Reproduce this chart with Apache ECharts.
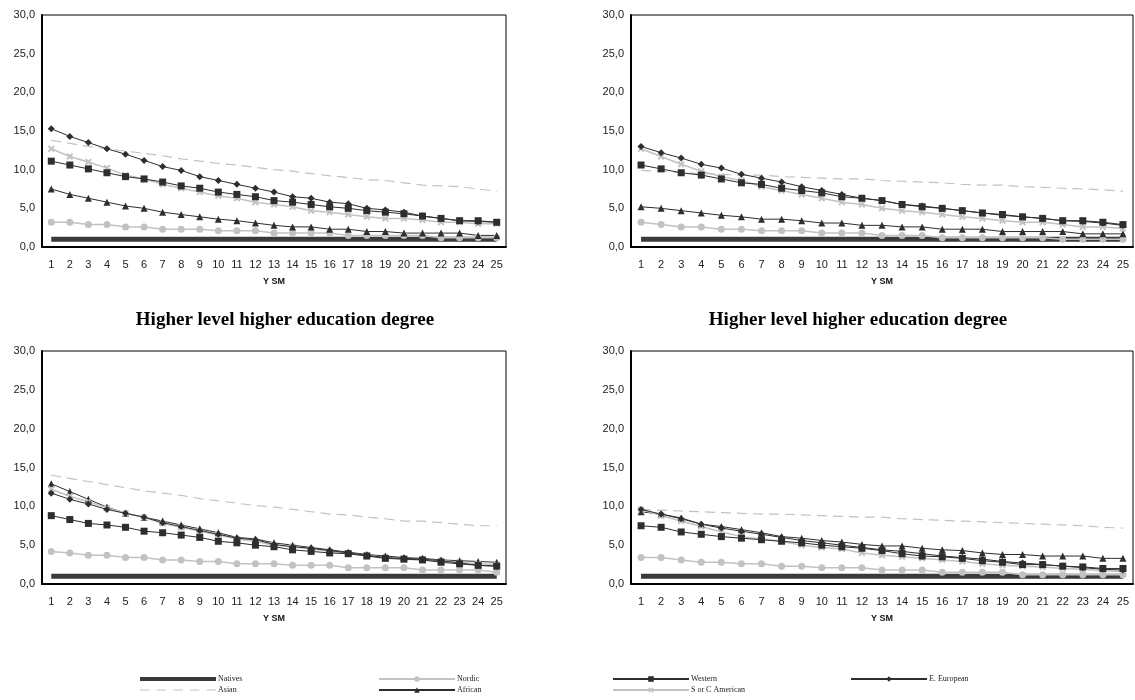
<!DOCTYPE html>
<html><head><meta charset="utf-8">
<script src="https://cdn.jsdelivr.net/npm/echarts@6/dist/echarts.min.js"></script>
<style>html,body{margin:0;padding:0;background:#fff}#c{width:1135px;height:700px}</style>
</head><body><div id="c"></div>
<script>
const years = ['1','2','3','4','5','6','7','8','9','10','11','12','13','14','15','16','17','18','19','20','21','22','23','24','25'];
const seriesNames = ['Natives','Nordic','Western','E. European','Asian','African','S or C American'];
const panelTitles = ['', '', 'Higher level higher education degree', 'Higher level higher education degree'];

// top-left
const tlNatives = [1,1,1,1,1,1,1,1,1,1,1,1,1,1,1,1,1,1,1,1,1,1,1,1,1];
const tlNordic = [3.2,3.2,2.9,2.9,2.6,2.6,2.3,2.3,2.3,2.1,2.1,2.1,1.8,1.8,1.8,1.8,1.5,1.5,1.5,1.5,1.5,1.2,1.2,1.2,1.2];
const tlWestern = [11.1,10.6,10.1,9.6,9.1,8.8,8.4,7.9,7.6,7.1,6.8,6.5,6.0,5.8,5.5,5.2,5.0,4.7,4.5,4.3,4.0,3.7,3.4,3.4,3.2];
const tlEEuropean = [15.3,14.3,13.5,12.7,12.0,11.2,10.4,9.9,9.1,8.6,8.1,7.6,7.1,6.5,6.3,5.8,5.6,5.0,4.8,4.5,4.0,3.7,3.4,3.3,3.2];
const tlAsian = [13.8,13.4,13.0,12.7,12.4,12.1,11.8,11.4,11.1,10.8,10.6,10.3,10.0,9.8,9.5,9.2,9.0,8.7,8.6,8.3,8.0,7.9,7.8,7.5,7.2];
const tlAfrican = [7.5,6.8,6.3,5.8,5.3,5.0,4.5,4.2,3.9,3.6,3.4,3.1,2.8,2.6,2.6,2.3,2.3,2.0,2.0,1.8,1.8,1.8,1.8,1.5,1.5];
const tlSCAmerican = [12.7,11.7,11.0,10.2,9.3,8.8,8.1,7.6,7.1,6.6,6.3,5.8,5.5,5.2,4.7,4.5,4.2,3.9,3.7,3.7,3.5,3.2,3.2,3.0,3.0];

// top-right
const trNatives = [1,1,1,1,1,1,1,1,1,1,1,1,1,1,1,1,1,1,1,1,1,1,1,1,1];
const trNordic = [3.2,2.9,2.6,2.6,2.3,2.3,2.1,2.1,2.1,1.8,1.8,1.8,1.5,1.5,1.5,1.2,1.2,1.2,1.2,1.2,1.2,1.0,1.0,1.0,1.0];
const trWestern = [10.6,10.1,9.6,9.3,8.8,8.3,8.1,7.6,7.3,7.0,6.5,6.3,6.0,5.5,5.2,5.0,4.7,4.4,4.2,3.9,3.7,3.4,3.4,3.2,2.9];
const trEEuropean = [13.0,12.2,11.5,10.7,10.2,9.4,8.9,8.4,7.8,7.3,6.8,6.3,6.0,5.5,5.3,5.0,4.7,4.4,4.1,3.9,3.7,3.4,3.3,3.1,2.8];
const trAsian = [9.9,9.8,9.6,9.5,9.4,9.3,9.3,9.1,9.0,8.9,8.8,8.8,8.6,8.5,8.4,8.3,8.1,8.0,8.0,7.8,7.7,7.6,7.5,7.4,7.2];
const trAfrican = [5.2,5.0,4.7,4.4,4.1,3.9,3.6,3.6,3.4,3.1,3.1,2.8,2.8,2.6,2.6,2.3,2.3,2.3,2.0,2.0,2.0,2.0,1.7,1.7,1.7];
const trSCAmerican = [12.7,11.7,10.7,9.8,9.1,8.6,7.8,7.3,6.8,6.3,5.8,5.5,5.0,4.7,4.5,4.2,3.9,3.7,3.4,3.2,3.2,2.9,2.6,2.6,2.4];

// bottom-left
const blNatives = [1,1,1,1,1,1,1,1,1,1,1,1,1,1,1,1,1,1,1,1,1,1,1,1,1];
const blNordic = [4.2,4.0,3.7,3.7,3.4,3.4,3.1,3.1,2.9,2.9,2.6,2.6,2.6,2.4,2.4,2.4,2.1,2.1,2.1,2.1,1.8,1.8,1.8,1.8,1.5];
const blWestern = [8.8,8.3,7.8,7.6,7.3,6.8,6.6,6.3,6.0,5.5,5.3,5.0,4.8,4.4,4.2,4.0,3.9,3.6,3.3,3.2,3.1,2.8,2.6,2.4,2.3];
const blEEuropean = [11.7,10.9,10.3,9.6,9.1,8.6,7.9,7.4,6.9,6.4,5.9,5.7,5.1,4.8,4.6,4.3,4.0,3.7,3.4,3.3,3.2,3.0,2.7,2.4,2.3];
const blAsian = [14.0,13.6,13.2,12.8,12.4,12.0,11.7,11.4,11.0,10.7,10.4,10.1,9.9,9.6,9.3,9.0,8.9,8.6,8.4,8.1,8.1,7.9,7.7,7.5,7.5];
const blAfrican = [12.9,11.9,10.9,9.9,9.1,8.6,8.1,7.6,7.1,6.6,6.0,5.8,5.3,5.0,4.7,4.4,4.1,3.8,3.6,3.4,3.3,3.1,3.0,2.9,2.8];
const blSCAmerican = [12.2,11.3,10.6,9.8,9.1,8.6,7.8,7.3,6.8,6.3,5.8,5.5,5.0,4.8,4.5,4.2,3.9,3.7,3.4,3.2,3.1,3.0,2.8,2.6,2.5];

// bottom-right
const brNatives = [1,1,1,1,1,1,1,1,1,1,1,1,1,1,1,1,1,1,1,1,1,1,1,1,1];
const brNordic = [3.4,3.4,3.1,2.8,2.8,2.6,2.6,2.3,2.3,2.1,2.1,2.1,1.8,1.8,1.8,1.5,1.5,1.5,1.5,1.2,1.2,1.2,1.2,1.2,1.2];
const brWestern = [7.5,7.3,6.7,6.4,6.1,5.9,5.7,5.5,5.3,5.0,4.8,4.6,4.3,3.9,3.6,3.5,3.3,3.0,2.8,2.5,2.5,2.3,2.2,2.0,2.0];
const brEEuropean = [9.6,9.0,8.4,7.7,7.2,6.8,6.4,6.0,5.6,5.3,5.0,4.7,4.4,4.2,3.9,3.6,3.4,3.2,2.9,2.7,2.5,2.3,2.1,1.9,1.8];
const brAsian = [9.6,9.5,9.4,9.3,9.2,9.1,9.0,9.0,8.9,8.8,8.7,8.6,8.6,8.4,8.3,8.2,8.1,8.0,7.9,7.8,7.7,7.6,7.5,7.3,7.2];
const brAfrican = [9.3,9.0,8.5,7.7,7.4,7.0,6.6,6.1,5.9,5.6,5.4,5.1,4.9,4.9,4.6,4.4,4.3,4.0,3.8,3.8,3.6,3.6,3.6,3.3,3.3];
const brSCAmerican = [9.6,8.8,8.1,7.4,6.7,6.1,5.8,5.5,5.0,4.7,4.5,4.0,3.7,3.5,3.3,3.1,2.9,2.6,2.4,2.3,2.2,2.0,1.9,1.7,1.6];

const panels = [
  [tlNatives, tlNordic, tlWestern, tlEEuropean, tlAsian, tlAfrican, tlSCAmerican],
  [trNatives, trNordic, trWestern, trEEuropean, trAsian, trAfrican, trSCAmerican],
  [blNatives, blNordic, blWestern, blEEuropean, blAsian, blAfrican, blSCAmerican],
  [brNatives, brNordic, brWestern, brEEuropean, brAsian, brAfrican, brSCAmerican]
];

const DARK = '#2e2e2e', LIGHT = '#c2c2c2';
const X_PATH = 'path://M0,2 L2,0 L5,3 L8,0 L10,2 L7,5 L10,8 L8,10 L5,7 L2,10 L0,8 L3,5 Z';
const DASH_PATH = 'path://M0,0h9v1h-9z M16,0h9v1h-9z M32,0h9v1h-9z M48,0h9v1h-9z M64,0h9v1h-9z';
const styles = {
  'Natives': {color: '#3a3a3a', width: 5, symbol: 'none', size: 0, type: 'solid'},
  'Nordic': {color: LIGHT, width: 1.5, symbol: 'circle', size: 7, type: 'solid'},
  'Western': {color: DARK, width: 1, symbol: 'rect', size: 7, type: 'solid'},
  'E. European': {color: DARK, width: 1, symbol: 'diamond', size: 7, type: 'solid'},
  'Asian': {color: LIGHT, width: 1.2, symbol: 'none', size: 0, type: [10, 6]},
  'African': {color: DARK, width: 1, symbol: 'triangle', size: 7, type: 'solid'},
  'S or C American': {color: LIGHT, width: 1.5, symbol: X_PATH, size: 7, type: 'solid'}
};
const drawOrder = ['Natives','Asian','Nordic','African','S or C American','Western','E. European'];

const grids = [
  {left: 42, top: 15, width: 464, height: 232},
  {left: 631, top: 15, width: 502, height: 232},
  {left: 42, top: 351, width: 464, height: 233},
  {left: 631, top: 351, width: 502, height: 233}
];

const option = {
  animation: false,
  backgroundColor: '#fff',
  title: [
    {text: panelTitles[2], left: 280, top: 306, textAlign: 'center', textStyle: {fontFamily: 'Liberation Serif', fontWeight: 'bold', fontSize: 19, color: '#000'}},
    {text: panelTitles[3], left: 853, top: 306, textAlign: 'center', textStyle: {fontFamily: 'Liberation Serif', fontWeight: 'bold', fontSize: 19, color: '#000'}}
  ],
  grid: grids.map(g => Object.assign({show: true, borderColor: '#000', borderWidth: 1, backgroundColor: '#fff'}, g)),
  xAxis: grids.map((g, i) => ({
    type: 'category', gridIndex: i, data: years, boundaryGap: true,
    name: 'Y SM', nameLocation: 'middle', nameGap: 30,
    nameTextStyle: {fontFamily: 'Liberation Sans', fontWeight: 'bold', fontSize: 9, color: '#111'},
    axisLine: {show: true, lineStyle: {color: '#000', width: 2}},
    axisTick: {show: false},
    axisLabel: {fontFamily: 'Liberation Sans', fontSize: 11, color: '#222', margin: 12, interval: 0},
    splitLine: {show: false}
  })),
  yAxis: grids.map((g, i) => ({
    type: 'value', gridIndex: i, min: 0, max: 30, interval: 5,
    axisLine: {show: true, lineStyle: {color: '#000', width: 2}},
    axisTick: {show: false},
    axisLabel: {fontFamily: 'Liberation Sans', fontSize: 11, color: '#222', margin: 7,
      formatter: v => v.toFixed(1).replace('.', ',')},
    splitLine: {show: false}
  })),
  legend: [],
  series: []
};

const legendPos = {
  'Natives': [140, 675], 'Nordic': [378, 675], 'Western': [612, 675], 'E. European': [850, 675],
  'Asian': [140, 686], 'African': [378, 686], 'S or C American': [612, 686]
};
seriesNames.forEach(n => {
  let item = {name: n};
  let ih = 7, dy = 0;
  if (n === 'Natives') { item.icon = 'rect'; ih = 4; dy = 0; }
  if (n === 'Asian') { item.icon = DASH_PATH; ih = 1.2; dy = 0; }
  option.legend.push({
    data: [item], left: legendPos[n][0], top: legendPos[n][1] + dy,
    itemWidth: 76, itemHeight: ih, itemGap: 0, padding: 0, selectedMode: false,
    textStyle: {fontFamily: 'Liberation Serif', fontSize: 8, color: '#222', padding: [0, 0, 0, -3]}
  });
});

panels.forEach((arrs, p) => {
  drawOrder.forEach(n => {
    const k = seriesNames.indexOf(n);
    const s = styles[n];
    option.series.push({
      name: n, type: 'line', xAxisIndex: p, yAxisIndex: p, data: arrs[k],
      symbol: s.symbol, symbolSize: s.size, showSymbol: s.symbol !== 'none',
      lineStyle: {color: s.color, width: s.width, type: s.type},
      itemStyle: {color: s.color},
      z: n === 'Natives' ? 1 : 2,
      emphasis: {disabled: true}
    });
  });
});

const chart = echarts.init(document.getElementById('c'), null, {renderer: 'canvas'});
chart.setOption(option);
</script>
</body></html>
